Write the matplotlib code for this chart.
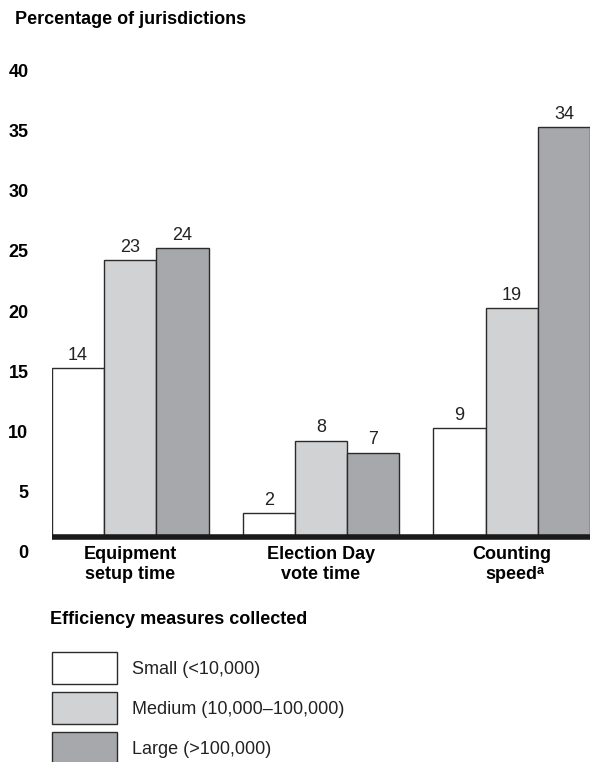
import matplotlib.pyplot as plt
from matplotlib.patches import Rectangle
import numpy as np

plt.rcParams['font.family'] = ['Liberation Sans', 'DejaVu Sans']

# data
categorias = ['Equipment\nsetup time', 'Election Day\nvote time', 'Counting\nspeed']
notas = ['', '', 'a']
series = ['Small (<10,000)', 'Medium (10,000\u2013100,000)', 'Large (>100,000)']
small = [14, 2, 9]
medium = [23, 8, 19]
large = [24, 7, 34]
yticks = [0, 5, 10, 15, 20, 25, 30, 35, 40]

colores = ['#ffffff', '#d1d2d4', '#a7a8ab']
borde = '#2b2b2b'
base = 1.25  # the bars sit on a thick baseline drawn slightly above 0
fs = 13

W, H = 592, 762
fig = plt.figure(figsize=(W / 100, H / 100), dpi=100)
ax = fig.add_axes([52 / W, 1 - 552 / H, 538 / W, (552 - 70) / H])

gap = 3.65
centros = np.arange(len(categorias)) * gap
for i, (vals, c) in enumerate(zip([small, medium, large], colores)):
    x = centros + (i - 1)
    bars = ax.bar(x, vals, width=1.0, bottom=base, color=c, edgecolor=borde, linewidth=1.0, zorder=2)
    for xi, v in zip(x, vals):
        ax.text(xi, base + v + 0.35, str(v), ha='center', va='bottom', fontsize=fs, color='#222222')

ax.axhline(base, color='#1a1a1a', linewidth=4, zorder=3)
ax.set_xlim(-1.5, centros[-1] + 1.5)
ax.set_ylim(0, 40)
ax.set_yticks(yticks)
ax.set_yticklabels([str(t) for t in yticks], fontweight='bold', fontsize=fs)
ax.tick_params(axis='y', length=0, pad=17)
ax.set_xticks([])
for s in ax.spines.values():
    s.set_visible(False)

# category names, two lines each, footnote letter after the second line
for xc, cat, nota in zip(centros, categorias, notas):
    linea1, linea2 = cat.split('\n')
    ax.text(xc, -0.55, linea1, ha='center', va='baseline', fontsize=fs, fontweight='bold')
    t2 = ax.text(xc, -2.25, linea2, ha='center', va='baseline', fontsize=fs, fontweight='bold')
    if nota:
        ax.annotate(nota, xy=(1, 0), xycoords=t2, xytext=(-0.8, 6.5), textcoords='offset points',
                    ha='left', va='baseline', fontsize=9, fontweight='bold')

fig.text(15 / W, 1 - 20 / H, 'Percentage of jurisdictions', fontsize=fs, fontweight='bold', va='center', ha='left')
fig.text(50 / W, 1 - 620 / H, 'Efficiency measures collected', fontsize=fs, fontweight='bold', va='center', ha='left')

# legend
for k, (lab, c) in enumerate(zip(series, colores)):
    top = 652 + k * 40
    fig.add_artist(Rectangle((52 / W, 1 - (top + 32) / H), 65 / W, 32 / H, transform=fig.transFigure,
                             facecolor=c, edgecolor=borde, linewidth=1.0))
    fig.text(132 / W, 1 - (top + 17) / H, lab, fontsize=fs, va='center', ha='left', color='#222222')

fig.savefig('out.png', dpi=100)
